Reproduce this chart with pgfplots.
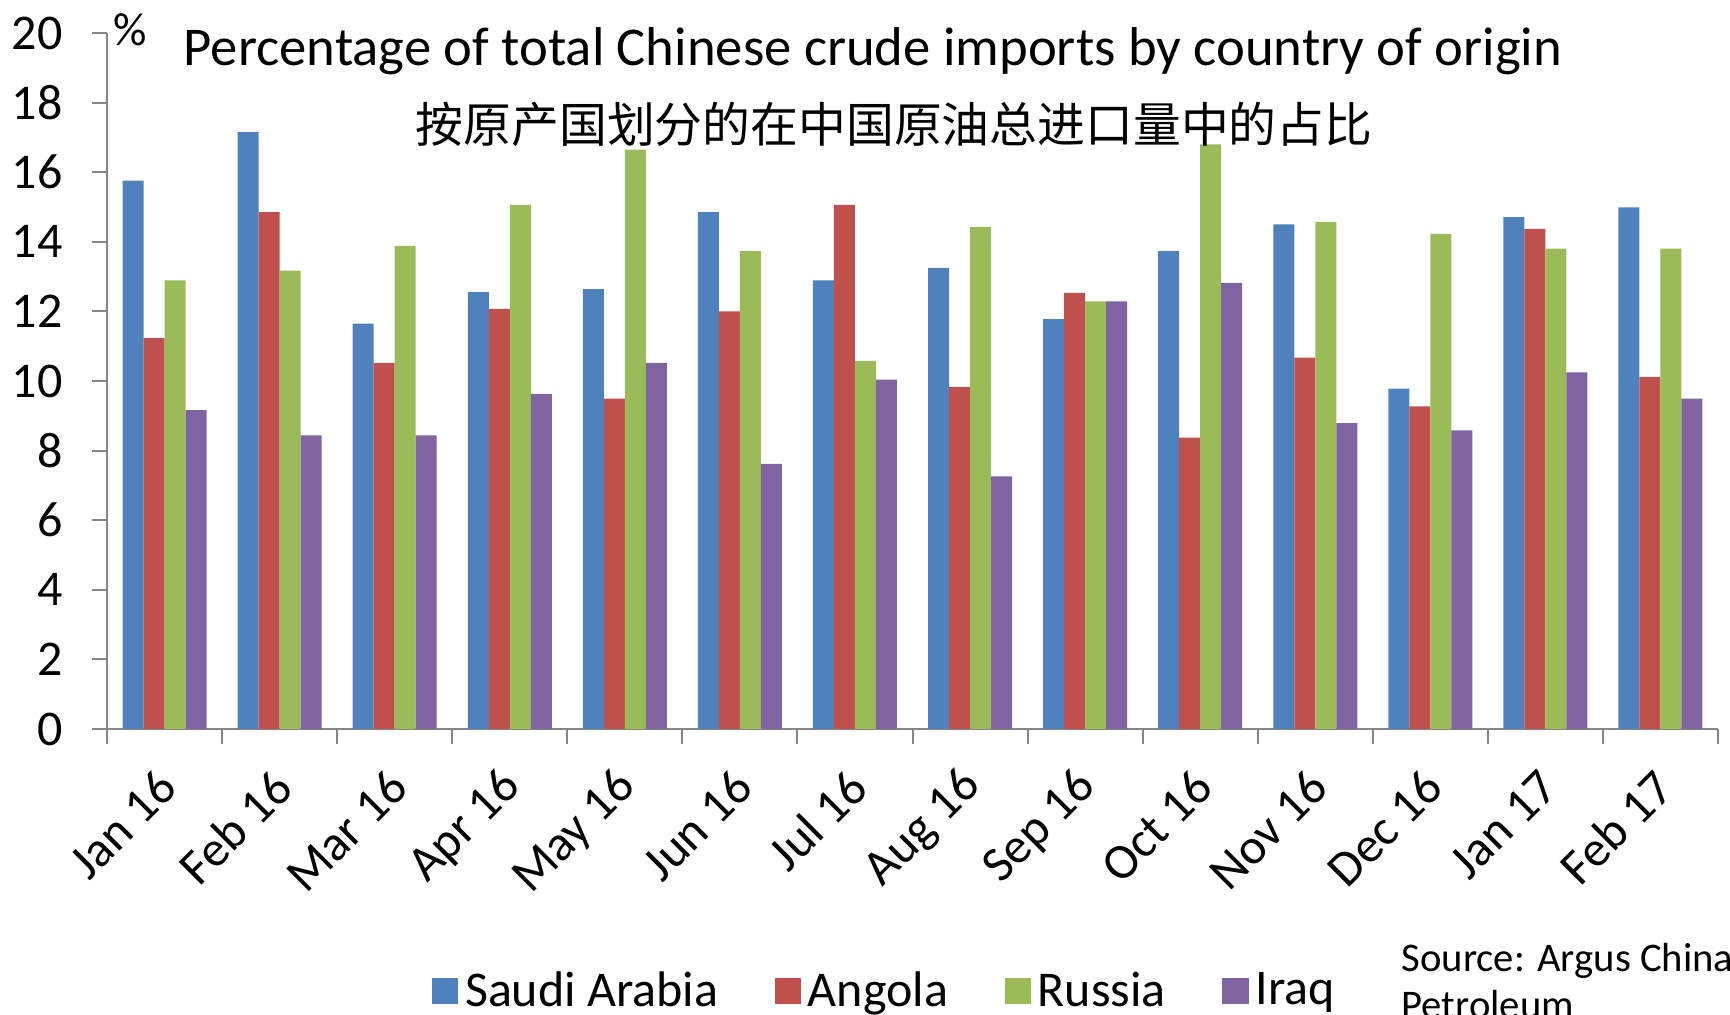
\documentclass[border=0pt]{standalone}
\usepackage{pgfplots}
\pgfplotsset{compat=1.18}
\usepackage{fontspec}
\setmainfont{Carlito}
\newfontfamily\cjk{Noto Sans CJK SC}
\definecolor{sa}{HTML}{4F81BD}
\definecolor{an}{HTML}{C0504D}
\definecolor{ru}{HTML}{9BBB59}
\definecolor{iq}{HTML}{8064A2}
\definecolor{axgray}{HTML}{868686}
\begin{document}
\begin{tikzpicture}
\useasboundingbox (0,0) rectangle (519pt,304.5pt);
\begin{axis}[
  at={(32.1pt,85.8pt)}, anchor=south west,
  scale only axis, width=483.3pt, height=208.8pt,
  ybar=0pt, bar width=6.3pt,
  xmin=-0.5, xmax=13.5, ymin=0, ymax=20,
  axis x line*=bottom, axis y line*=left,
  axis line style={axgray, line width=0.6pt},
  tick align=outside,
  major tick length=4.5pt,
  tick style={axgray, line width=0.6pt},
  ytick={0,2,...,20},
  xtick={-0.5,0.5,1.5,2.5,3.5,4.5,5.5,6.5,7.5,8.5,9.5,10.5,11.5,12.5,13.5},
  x tick label as interval,
  xticklabels={Jan 16,Feb 16,Mar 16,Apr 16,May 16,Jun 16,Jul 16,Aug 16,Sep 16,Oct 16,Nov 16,Dec 16,Jan 17,Feb 17},
  xticklabel style={rotate=45, anchor=east, font=\fontsize{15}{17}\selectfont, xshift=-3.2pt, yshift=-8.2pt},
  yticklabel style={font=\fontsize{15}{17}\selectfont, xshift=-5.3pt},
  /pgf/number format/assume math mode=true,
  legend columns=4,
  legend style={at={(axis description cs:0.484,-0.377)}, anchor=center, draw=none, fill=none,
    font=\fontsize{15}{18}\selectfont,
    /tikz/every even column/.append style={column sep=15pt}},
  legend image code/.code={\fill[#1] (0pt,-3.9pt) rectangle (7.9pt,3.9pt);},
]
\addplot[fill=sa, draw=none] coordinates {(0,15.76) (1,17.15) (2,11.65) (3,12.55) (4,12.64) (5,14.85) (6,12.89) (7,13.25) (8,11.78) (9,13.73) (10,14.50) (11,9.78) (12,14.71) (13,14.99)};
\addplot[fill=an, draw=none] coordinates {(0,11.23) (1,14.85) (2,10.52) (3,12.07) (4,9.49) (5,12.00) (6,15.06) (7,9.83) (8,12.53) (9,8.37) (10,10.67) (11,9.27) (12,14.37) (13,10.12)};
\addplot[fill=ru, draw=none] coordinates {(0,12.89) (1,13.17) (2,13.88) (3,15.06) (4,16.65) (5,13.73) (6,10.58) (7,14.42) (8,12.29) (9,16.80) (10,14.57) (11,14.23) (12,13.80) (13,13.80)};
\addplot[fill=iq, draw=none] coordinates {(0,9.16) (1,8.44) (2,8.44) (3,9.63) (4,10.52) (5,7.62) (6,10.04) (7,7.26) (8,12.29) (9,12.82) (10,8.79) (11,8.58) (12,10.25) (13,9.49)};
\legend{Saudi Arabia, Angola, Russia, Iraq}
\end{axis}
\node[font=\fontsize{16.4}{19}\selectfont] at (261.9pt,289.2pt) {Percentage of total Chinese crude imports by country of origin};
\node[font=\cjk\fontsize{14.35}{18}\selectfont] at (268.2pt,267.3pt) {按原产国划分的在中国原油总进口量中的占比};
\node[font=\fontsize{14}{16}\selectfont] at (39pt,295.5pt) {\%};
\node[anchor=west, align=left, inner sep=0pt, font=\fontsize{12.2}{13.9}\selectfont] at (420.3pt,10.2pt) {Source: Argus China\\Petroleum};
\end{tikzpicture}
\end{document}
